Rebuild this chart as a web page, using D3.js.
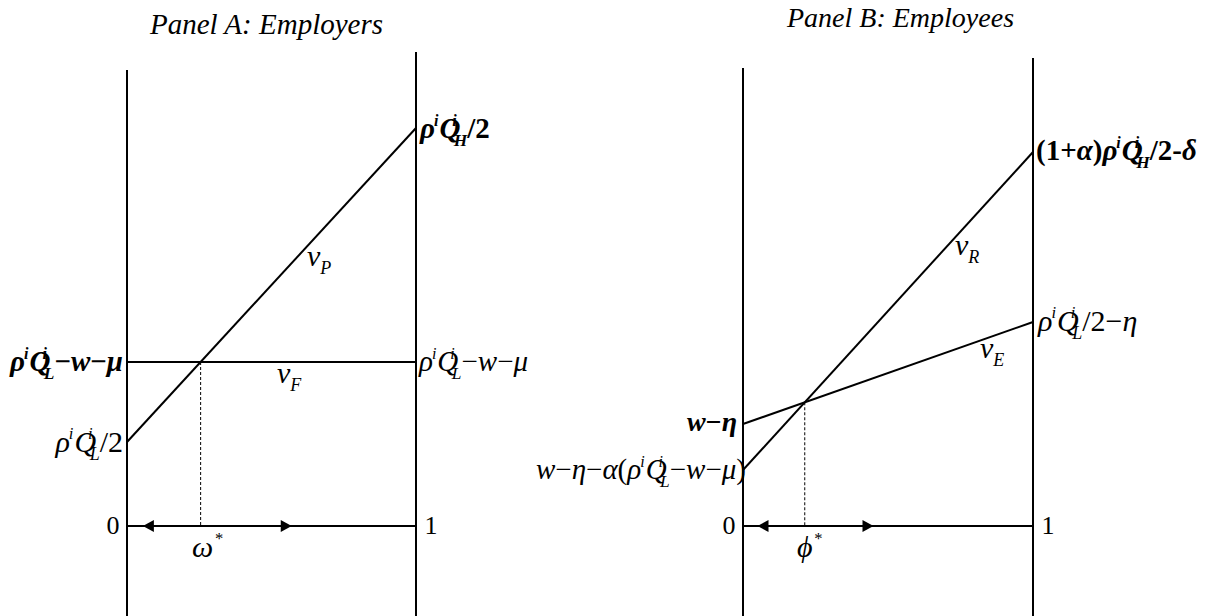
<!DOCTYPE html>
<html>
<head>
<meta charset="utf-8">
<script src="https://cdn.jsdelivr.net/npm/d3@7"></script>
<style>
  body { margin: 0; background: #fff; }
  svg text { font-family: "Liberation Serif", "DejaVu Serif", serif; fill: #000; }
</style>
</head>
<body>
<svg id="chart" width="1217" height="616"></svg>
<script>
// ---- data ----
var titles = ["Panel A: Employers", "Panel B: Employees"];
var shareEnds = [0, 1];                 // horizontal share axis, left / right wall
var vP = [1.68, 7.96];                  // employers, value at share 0 and 1
var vF = [3.28, 3.28];
var vR = [1.12, 7.48];                  // employees
var vE = [2.04, 4.08];
var arrowsA = [0.055, 0.57];            // arrow tips on the share axis
var arrowsB = [0.05, 0.45];
var wallTopsA = [9.12, 9.48];           // top of left / right wall
var wallTopsB = [9.16, 9.36];
var wallBottom = -1.8;
var axisLabels = ["0", "1"];

var svg = d3.select("#chart");
var y = d3.scaleLinear().domain([0, 10]).range([526, 26]);
var xA = d3.scaleLinear().domain(shareEnds).range([127, 416]);
var xB = d3.scaleLinear().domain(shareEnds).range([743, 1033]);

// rich text: parts = [text, kind, dx]
function rich(x, yy, anchor, size, weight, parts) {
    var t = svg.append("text")
        .attr("x", x).attr("y", yy)
        .attr("text-anchor", anchor)
        .attr("font-size", size + "px")
        .attr("font-weight", weight);
    var shift = 0;
    parts.forEach(function (p) {
        var kind = p[1] || "n", target = 0, fs = size;
        if (kind == "sup") { target = -0.42 * size; fs = size * 0.55; }
        if (kind == "sub") { target = 0.28 * size; fs = size * 0.6; }
        var s = t.append("tspan")
            .attr("dy", target - shift)
            .attr("font-size", fs + "px")
            .attr("font-style", kind == "n" ? "normal" : "italic")
            .text(p[0]);
        if (p[2]) s.attr("dx", p[2]);
        shift = target;
    });
    return t;
}
var rhoQ = function (sub) {
    return [["ρ", "i"], ["i", "sup", -1], ["Q", "i", 1], ["i", "sup", -8], [sub, "sub", -3]];
};

function segment(x, vals) {
    return d3.line()([[x(0), y(vals[0])], [x(1), y(vals[1])]]);
}
function crossing(a, b) {
    return (b[0] - a[0]) / ((a[1] - a[0]) - (b[1] - b[0]));
}

function drawPanel(x, lines, tops, arrows) {
    var g = svg.append("g");
    g.selectAll("line.wall").data(tops).enter().append("line")
        .attr("x1", function (d, i) { return x(shareEnds[i]); })
        .attr("x2", function (d, i) { return x(shareEnds[i]); })
        .attr("y1", function (d) { return y(d); })
        .attr("y2", y(wallBottom))
        .attr("stroke", "#000").attr("stroke-width", 2);
    g.append("line")
        .attr("x1", x(0)).attr("x2", x(1))
        .attr("y1", y(0)).attr("y2", y(0))
        .attr("stroke", "#000").attr("stroke-width", 2);
    g.selectAll("path.v").data(lines).enter().append("path")
        .attr("d", function (d) { return segment(x, d); })
        .attr("fill", "none").attr("stroke", "#000").attr("stroke-width", 2);
    var c = crossing(lines[0], lines[1]);
    var cy = lines[0][0] + c * (lines[0][1] - lines[0][0]);
    g.append("line")
        .attr("x1", x(c)).attr("x2", x(c))
        .attr("y1", y(cy)).attr("y2", y(0))
        .attr("stroke", "#000").attr("stroke-width", 1)
        .attr("stroke-dasharray", "3,2");
    g.selectAll("path.arrow").data(arrows).enter().append("path")
        .attr("d", function (d, i) {
            var tip = x(d), dir = i == 0 ? 1 : -1, y0 = y(0);
            return d3.line()([[tip, y0], [tip + dir * 11, y0 - 6], [tip + dir * 11, y0 + 6]]) + "Z";
        })
        .attr("fill", "#000");
    g.selectAll("text.ax").data(axisLabels).enter().append("text")
        .attr("x", function (d, i) { return x(shareEnds[i]) + (i == 0 ? -14 : 15); })
        .attr("y", y(0) + 8)
        .attr("text-anchor", "middle")
        .attr("font-size", "26px")
        .text(function (d) { return d; });
    return c;
}

drawPanel(xA, [vP, vF], wallTopsA, arrowsA);
drawPanel(xB, [vR, vE], wallTopsB, arrowsB);

// titles
svg.append("text").attr("x", 150).attr("y", 34)
    .attr("font-size", "29px").attr("font-style", "italic").text(titles[0]);
svg.append("text").attr("x", 787).attr("y", 27)
    .attr("font-size", "28px").attr("font-style", "italic").text(titles[1]);

// Panel A labels
rich(xA(1) + 4, y(vP[1]) + 10, "start", 29, "bold", rhoQ("H").concat([["/2"]]));
rich(xA(0) - 4, y(vF[0]) + 9, "end", 29, "bold", rhoQ("L").concat([["−"], ["w", "i"], ["−"], ["μ", "i"]]));
rich(xA(0) - 4, y(vP[0]) + 10, "end", 30, "normal", rhoQ("L").concat([["/2"]]));
rich(xA(1) + 3, y(vF[1]) + 9, "start", 29, "normal", rhoQ("L").concat([["−"], ["w", "i"], ["−"], ["μ", "i"]]));
rich(307, 266, "start", 30, "normal", [["v", "i"], ["P", "sub"]]);
rich(277, 383, "start", 30, "normal", [["v", "i"], ["F", "sub"]]);
rich(192, 557, "start", 30, "normal", [["ω", "i"], ["*", "sup", 1]]);

// Panel B labels
rich(xB(1) + 3, y(vR[1]) + 8, "start", 29, "bold",
    [["(1+"], ["α", "i"], [")"]].concat(rhoQ("H")).concat([["/2-"], ["δ", "i"]]));
rich(xB(1) + 5, y(vE[1]) + 9, "start", 30, "normal", rhoQ("L").concat([["/2−"], ["η", "i"]]));
rich(xB(0) - 6, y(vE[0]) + 7, "end", 28, "bold", [["w", "i"], ["−"], ["η", "i"]]);
rich(xB(0) + 3, y(vR[0]) + 9, "end", 29, "normal",
    [["w", "i"], ["−"], ["η", "i"], ["−"], ["α", "i"], ["("]].concat(rhoQ("L")).concat([["−"], ["w", "i"], ["−"], ["μ", "i"], [")", "n", 0]]));
rich(955, 255, "start", 30, "normal", [["v", "i"], ["R", "sub"]]);
rich(980, 358, "start", 30, "normal", [["v", "i"], ["E", "sub"]]);
rich(797, 557, "start", 30, "normal", [["ϕ", "i"], ["*", "sup", 1]]);
</script>
</body>
</html>
